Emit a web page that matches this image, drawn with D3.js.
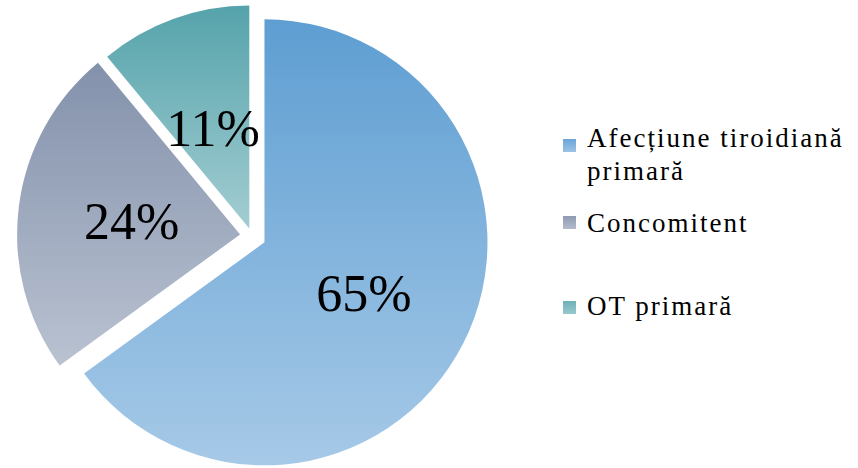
<!DOCTYPE html>
<html>
<head>
<meta charset="utf-8">
<script src="https://cdn.jsdelivr.net/npm/d3@7"></script>
<style>
  body { margin: 0; background: #fff; }
  svg { display: block; }
</style>
</head>
<body>
<div id="chart"></div>
<script>
const categories = ["Afecțiune tiroidiană primară", "Concomitent", "OT primară"];
const values = [65, 24, 11];
const labels = ["65%", "24%", "11%"];

const width = 858;
const height = 468;
const cx = 252, cy = 236;
const radius = 223;
const explode = [14, 12, 8];
const fontFamily = "'Liberation Serif', Tinos, 'Times New Roman', 'DejaVu Serif', serif";

const gradColors = [
  ["#5e9ed2", "#a6c9e7"],
  ["#8391ab", "#b9c2d1"],
  ["#56a3ab", "#a2cdd2"]
];
const swatchColors = [
  ["#6aa5d8", "#9cc3e5"],
  ["#8f9bb3", "#b2bccc"],
  ["#6eb0b7", "#99c9ce"]
];

const svg = d3.select("#chart")
              .append("svg")
              .attr("width", width)
              .attr("height", height)
              .style("font-family", fontFamily);

const defs = svg.append("defs");
function addGradient(id, c) {
  const g = defs.append("linearGradient")
                .attr("id", id)
                .attr("x1", 0).attr("y1", 0)
                .attr("x2", 0).attr("y2", 1);
  g.append("stop").attr("offset", "0%").attr("stop-color", c[0]);
  g.append("stop").attr("offset", "100%").attr("stop-color", c[1]);
}
gradColors.forEach((c, i) => addGradient("grad" + i, c));
swatchColors.forEach((c, i) => addGradient("sw" + i, c));

const pie = d3.pie().sort(null).value(d => d);
const arcs = pie(values);
const arc = d3.arc().innerRadius(0).outerRadius(radius);

const slices = svg.append("g")
                  .attr("transform", `translate(${cx}, ${cy})`)
                  .selectAll("g")
                  .data(arcs)
                  .enter()
                  .append("g")
                  .attr("transform", (d, i) => {
                    const mid = (d.startAngle + d.endAngle) / 2;
                    return `translate(${Math.sin(mid) * explode[i]}, ${-Math.cos(mid) * explode[i]})`;
                  });

slices.append("path")
      .attr("d", arc)
      .attr("fill", (d, i) => `url(#grad${i})`);

// label distance from center, as a fraction of the radius
const labelR = [0.5, 0.49, 0.48];
slices.append("text")
      .attr("x", (d, i) => Math.sin((d.startAngle + d.endAngle) / 2) * radius * labelR[i])
      .attr("y", (d, i) => -Math.cos((d.startAngle + d.endAngle) / 2) * radius * labelR[i])
      .attr("dy", "0.35em")
      .attr("text-anchor", "middle")
      .style("font-family", fontFamily)
      .style("font-size", "52px")
      .attr("fill", "#000")
      .text((d, i) => labels[i]);

// legend
const legendX = 563;
const legendRows = [139, 216, 301];
const legendBase = [147, 232, 315];
const legend = svg.append("g");
categories.forEach((c, i) => {
  legend.append("rect")
        .attr("x", legendX)
        .attr("y", legendRows[i])
        .attr("width", 13)
        .attr("height", 13)
        .attr("fill", `url(#sw${i})`);
  const t = legend.append("text")
                  .attr("x", legendX + 24)
                  .attr("y", legendBase[i])
                  .style("font-family", fontFamily)
                  .style("font-size", "27px")
                  .style("letter-spacing", "2px")
                  .attr("fill", "#000");
  if (i === 0) {
    t.append("tspan").attr("x", legendX + 24).text("Afecțiune tiroidiană");
    t.append("tspan").attr("x", legendX + 24).attr("dy", 33).text("primară");
  } else {
    t.text(c);
  }
});
</script>
</body>
</html>
